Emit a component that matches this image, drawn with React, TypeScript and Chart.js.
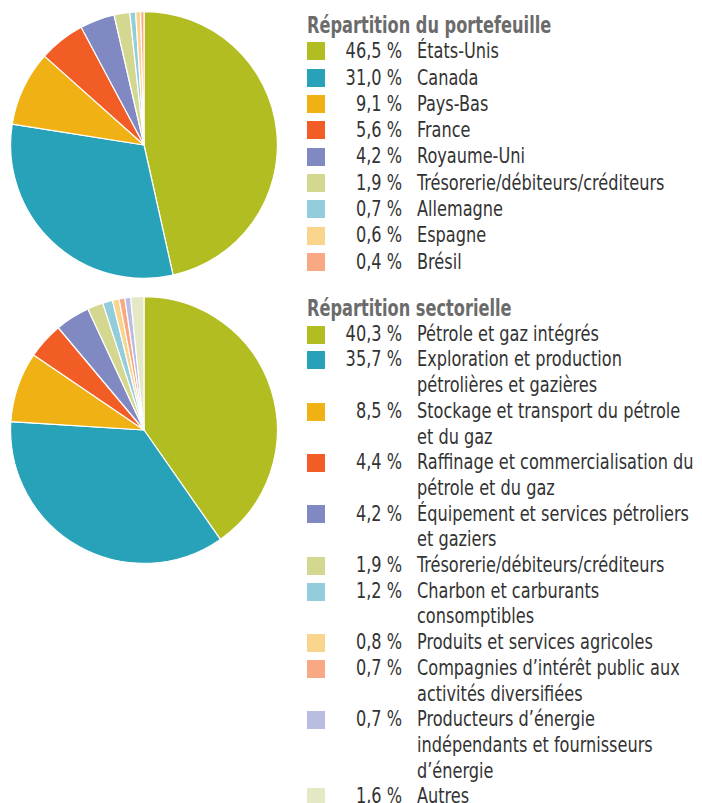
import React, { useEffect, useRef } from "react";
import { Chart, registerables } from "chart.js";

Chart.register(...registerables);

const portfolioTitle = "Répartition du portefeuille";
const portfolioLabels = [
  "États-Unis",
  "Canada",
  "Pays-Bas",
  "France",
  "Royaume-Uni",
  "Trésorerie/débiteurs/créditeurs",
  "Allemagne",
  "Espagne",
  "Brésil",
];
const portfolioValues = [46.5, 31.0, 9.1, 5.6, 4.2, 1.9, 0.7, 0.6, 0.4];
const portfolioColors = [
  "#b2bd22",
  "#27a2b8",
  "#f0b114",
  "#f25c25",
  "#8089c2",
  "#d4d78f",
  "#93cddb",
  "#f9d48c",
  "#f8a984",
];

const sectorTitle = "Répartition sectorielle";
const sectorLabels = [
  "Pétrole et gaz intégrés",
  "Exploration et production\npétrolières et gazières",
  "Stockage et transport du pétrole\net du gaz",
  "Raffinage et commercialisation du\npétrole et du gaz",
  "Équipement et services pétroliers\net gaziers",
  "Trésorerie/débiteurs/créditeurs",
  "Charbon et carburants\nconsomptibles",
  "Produits et services agricoles",
  "Compagnies d’intérêt public aux\nactivités diversifiées",
  "Producteurs d’énergie\nindépendants et fournisseurs\nd’énergie",
  "Autres",
];
const sectorValues = [40.3, 35.7, 8.5, 4.4, 4.2, 1.9, 1.2, 0.8, 0.7, 0.7, 1.6];
const sectorColors = [
  "#b2bd22",
  "#27a2b8",
  "#f0b114",
  "#f25c25",
  "#8089c2",
  "#d4d78f",
  "#93cddb",
  "#f9d48c",
  "#f8a984",
  "#b9bde2",
  "#e4e8c4",
];

const FONT = '"DejaVu Sans Condensed", "Liberation Sans Narrow", "Roboto", sans-serif';

function formatPct(v: number): string {
  return v.toFixed(1).replace(".", ",") + " %";
}

function PieChart(props: {
  labels: string[];
  values: number[];
  colors: string[];
  left: number;
  top: number;
  size: number;
}) {
  const ref = useRef<HTMLCanvasElement | null>(null);
  useEffect(() => {
    if (!ref.current) return;
    const chart = new Chart(ref.current, {
      type: "pie",
      data: {
        labels: props.labels,
        datasets: [
          {
            data: props.values,
            backgroundColor: props.colors,
            borderColor: "#ffffff",
            borderWidth: 1.2,
          },
        ],
      },
      options: {
        responsive: false,
        animation: false,
        layout: { padding: 0 },
        plugins: {
          legend: { display: false },
          tooltip: { enabled: false },
        },
      },
    });
    return () => chart.destroy();
  }, []);
  return (
    <canvas
      ref={ref}
      width={props.size}
      height={props.size}
      style={{
        position: "absolute",
        left: props.left,
        top: props.top,
        width: props.size,
        height: props.size,
      }}
    />
  );
}

const BODY_SCALE = 0.875;
const TITLE_SCALE = 0.8;

function Legend(props: {
  title: string;
  labels: string[];
  values: number[];
  colors: string[];
  left: number;
  top: number;
  lineHeight: number;
}) {
  const lh = props.lineHeight;
  return (
    <div
      style={{
        position: "absolute",
        left: props.left,
        top: props.top,
        fontFamily: FONT,
        fontSize: 20.5,
        color: "#333333",
        lineHeight: lh + "px",
      }}
    >
      <div
        style={{
          fontWeight: "bold",
          color: "#6b6b6b",
          fontSize: 22.5,
          height: lh,
          whiteSpace: "nowrap",
          transform: `scaleX(${TITLE_SCALE})`,
          transformOrigin: "left center",
        }}
      >
        {props.title}
      </div>
      {props.labels.map((lab, i) => (
        <div key={i} style={{ display: "flex", alignItems: "flex-start" }}>
          <div
            style={{
              width: 18,
              height: 18,
              marginTop: (lh - 18) / 2,
              background: props.colors[i],
              flex: "0 0 auto",
            }}
          />
          <div
            style={{
              width: 77,
              textAlign: "right",
              flex: "0 0 auto",
              whiteSpace: "nowrap",
              transform: `scaleX(${BODY_SCALE})`,
              transformOrigin: "right center",
            }}
          >
            {formatPct(props.values[i])}
          </div>
          <div
            style={{
              marginLeft: 15,
              whiteSpace: "pre",
              transform: `scaleX(${BODY_SCALE})`,
              transformOrigin: "left center",
            }}
          >
            {lab}
          </div>
        </div>
      ))}
    </div>
  );
}

export default function App() {
  return (
    <div
      style={{
        position: "absolute",
        left: 0,
        top: 0,
        width: 702,
        height: 803,
        background: "#ffffff",
        overflow: "hidden",
      }}
    >
      <PieChart
        labels={portfolioLabels}
        values={portfolioValues}
        colors={portfolioColors}
        left={10}
        top={11}
        size={268}
      />
      <PieChart
        labels={sectorLabels}
        values={sectorValues}
        colors={sectorColors}
        left={10}
        top={296}
        size={268}
      />
      <Legend
        title={portfolioTitle}
        labels={portfolioLabels}
        values={portfolioValues}
        colors={portfolioColors}
        left={307}
        top={12}
        lineHeight={26.3}
      />
      <Legend
        title={sectorTitle}
        labels={sectorLabels}
        values={sectorValues}
        colors={sectorColors}
        left={307}
        top={296}
        lineHeight={25.7}
      />
    </div>
  );
}
